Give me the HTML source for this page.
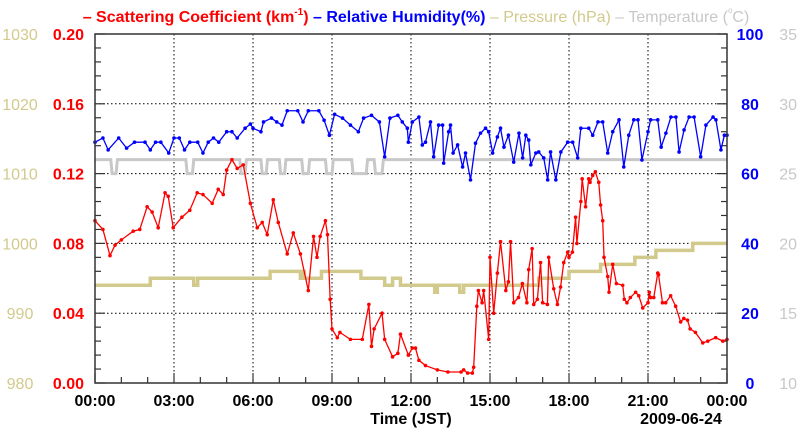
<!DOCTYPE html>
<html><head><meta charset="utf-8"><style>
html,body{margin:0;padding:0;background:#fff;}
svg{display:block;font-family:"Liberation Sans",sans-serif;}
</style></head><body>
<svg id="chart" width="800" height="434" viewBox="0 0 800 434"></svg>
<script>
// ---- data ----
const scatTimes=[0,0.3,0.57,0.76,1.0,1.45,1.7,1.98,2.17,2.4,2.66,2.78,2.97,3.3,3.6,3.88,4.1,4.45,4.68,4.87,5.0,5.2,5.4,5.63,5.9,6.16,6.35,6.54,6.77,6.96,7.3,7.53,7.8,8.1,8.3,8.43,8.55,8.75,8.83,8.93,9.0,9.2,9.3,9.7,10.15,10.4,10.5,10.6,10.9,11.0,11.3,11.5,11.6,11.9,12.05,12.17,12.3,12.55,13.0,13.4,13.9,14.0,14.15,14.33,14.38,14.5,14.56,14.7,14.76,14.95,15.0,15.14,15.28,15.4,15.6,15.7,15.78,15.9,16.08,16.23,16.4,16.47,16.6,16.66,16.8,16.92,17.0,17.18,17.23,17.42,17.56,17.68,17.8,17.95,18.0,18.13,18.25,18.3,18.45,18.5,18.63,18.75,18.8,18.9,19.0,19.13,19.2,19.28,19.33,19.47,19.52,19.66,19.8,20.04,20.1,20.2,20.33,20.53,20.65,20.8,21.0,21.05,21.1,21.22,21.37,21.4,21.55,21.67,21.86,22.05,22.24,22.36,22.5,22.6,22.8,23.08,23.27,23.57,23.84,24.0];
const scatValues=[0.093,0.088,0.073,0.079,0.082,0.087,0.088,0.101,0.098,0.089,0.109,0.107,0.089,0.095,0.099,0.109,0.108,0.103,0.111,0.108,0.122,0.128,0.123,0.125,0.103,0.089,0.092,0.085,0.105,0.092,0.074,0.086,0.074,0.053,0.084,0.072,0.084,0.093,0.085,0.048,0.031,0.026,0.029,0.025,0.025,0.045,0.021,0.031,0.040,0.025,0.015,0.017,0.028,0.016,0.020,0.020,0.013,0.010,0.0075,0.0063,0.0063,0.0075,0.0057,0.0057,0.009,0.044,0.053,0.046,0.053,0.025,0.072,0.040,0.063,0.081,0.053,0.058,0.081,0.046,0.049,0.057,0.046,0.065,0.077,0.045,0.048,0.069,0.046,0.045,0.072,0.054,0.045,0.055,0.069,0.075,0.072,0.075,0.095,0.080,0.104,0.117,0.101,0.117,0.115,0.119,0.121,0.115,0.102,0.093,0.072,0.061,0.052,0.068,0.057,0.056,0.048,0.046,0.049,0.052,0.050,0.043,0.046,0.052,0.049,0.049,0.063,0.062,0.046,0.046,0.050,0.044,0.035,0.037,0.036,0.031,0.029,0.023,0.024,0.026,0.024,0.025];
const rhTimes=[0,0.3,0.5,0.9,1.2,1.5,1.9,2.1,2.3,2.5,2.8,3.0,3.2,3.4,3.6,3.9,4.1,4.3,4.5,4.7,5.0,5.2,5.4,5.7,5.9,6.0,6.3,6.4,6.7,6.9,7.1,7.3,7.7,7.9,8.1,8.5,8.7,8.9,9.1,9.4,9.7,10.0,10.2,10.5,10.8,11.0,11.2,11.5,11.67,11.86,11.9,12.05,12.3,12.43,12.55,12.74,12.86,13.05,13.2,13.24,13.43,13.5,13.6,13.77,13.96,14.07,14.26,14.45,14.64,14.83,14.95,15.1,15.28,15.4,15.53,15.7,15.9,16.1,16.24,16.36,16.47,16.55,16.74,16.85,17.04,17.19,17.3,17.5,17.69,17.95,18.14,18.33,18.45,18.75,18.9,19.1,19.28,19.47,19.66,19.9,20.08,20.27,20.46,20.62,20.77,21.0,21.1,21.37,21.5,21.68,21.87,22.06,22.18,22.37,22.56,22.75,23.0,23.2,23.47,23.58,23.77,23.9,24.0];
const rhValues=[69,70.2,66.8,70.2,67.3,69,69,66.8,69,69,65.9,70.2,70.2,66.8,69,69,65.9,69,70.2,69,72,72,70.2,73,74.2,73,72,74.8,75.9,74.8,73.9,78,78,74.8,78,78,75.3,71,77,75.9,73.9,72,75.9,76.7,74.8,64.8,75.9,76.7,74.8,73,69,74.8,76.2,68.2,69,74.8,64.8,73.9,73.9,63,72,73.9,65.9,68.2,61.9,65.9,58.2,68.7,71.6,73,72,65.9,70.5,73,67.6,71,63.3,71.6,64.5,71,69.6,62.5,65.9,66.2,64.5,58.2,66.2,58.2,66.2,69,69,64.5,73,73,71,74.8,74.8,65.9,72,75.4,61.9,71,75.4,75.4,63.9,72,75.4,75.4,67.6,71.6,76.2,76.2,66.2,72.5,76.2,76.2,64.8,73.9,76.2,75.4,66.8,71,71];
const presStepTimes=[0,2.1,3.75,3.9,6.65,7.8,7.9,7.95,8.6,10.1,11.0,11.3,11.6,12.9,13.0,13.85,14.0,16.85,18.0,19.2,20.5,21.3,22.7];
const presStepValues=[994,995,994,995,996,995,996,995,996,995,994,995,994,993,994,993,994,995,996,997,998,999,1000];
const tempTimes=[0,0.6,0.65,0.8,0.85,3.45,3.5,3.7,3.75,5.5,5.55,5.7,5.75,6.3,6.35,6.5,6.55,7.0,7.05,7.2,7.25,7.85,7.9,8.1,8.15,8.75,8.8,9.0,9.05,9.75,9.8,10.3,10.35,10.6,10.65,10.9,10.95,24];
const tempValues=[26,26,25,25,26,26,25,25,26,26,25,25,26,26,25,25,26,26,25,25,26,26,25,25,26,26,25,25,26,26,25,25,26,26,25,25,26,26];
const xTickLabels=["00:00","03:00","06:00","09:00","12:00","15:00","18:00","21:00","00:00"];
const scatTicks=["0.00","0.04","0.08","0.12","0.16","0.20"];
const presTicks=["980","990","1000","1010","1020","1030"];
const rhTicks=["0","20","40","60","80","100"];
const tempTicks=["10","15","20","25","30","35"];

// ---- axes ----
const L=95,R=727,T=34,B=383;
const X=t=>L+(R-L)*t/24;
const YS=v=>B-(B-T)*v/0.2;
const YP=v=>B-(B-T)*(v-980)/50;
const YR=v=>B-(B-T)*v/100;
const YT=v=>B-(B-T)*(v-10)/25;
const NS="http://www.w3.org/2000/svg";
const svg=document.getElementById('chart');
function mk(tag,attrs,parent){const e=document.createElementNS(NS,tag);for(const k in attrs)e.setAttribute(k,attrs[k]);(parent||svg).appendChild(e);return e;}

// grid
const grid=mk('g',{});


for(let i=1;i<8;i++){mk('line',{x1:X(i*3),x2:X(i*3),y1:T,y2:B,stroke:'#000','stroke-width':1,'stroke-dasharray':'1.5,2.5'},grid);}
for(let i=1;i<5;i++){const y=YS(i*0.04);mk('line',{x1:L,x2:R,y1:y,y2:y,stroke:'#000','stroke-width':1,'stroke-dasharray':'1.5,2.5'},grid);}

// ticks
const ticks=mk('g',{stroke:'#333','stroke-width':1.2});


for(let i=0;i<=24;i++){const x=X(i);const len=(i%3==0)?10:6;mk('line',{x1:x,x2:x,y1:B,y2:B-len},ticks);}
for(let i=0;i<=25;i++){const y=B-(B-T)*i/25;const len=(i%5==0)?10:6;mk('line',{x1:L,x2:L+len,y1:y,y2:y},ticks);mk('line',{x1:R,x2:R-len,y1:y,y2:y},ticks);}

// pressure
let pd='';
presStepTimes.forEach((t,i)=>{const tn=i<presStepTimes.length-1?presStepTimes[i+1]:24;const y=YP(presStepValues[i]);pd+=(i==0?'M':'L')+X(t)+','+y+'L'+X(tn)+','+y;});
const pres=mk('path',{d:pd,fill:'none',stroke:'#d2ca8c','stroke-width':3.5});



// temperature
const temp=mk('polyline',{points:tempTimes.map((t,i)=>X(t)+','+YT(tempValues[i])).join(' '),fill:'none',stroke:'#c8c8c8','stroke-width':3});



function series(times,vals,yf,color,name){
  const g=mk('g',{});
  
  
  mk('polyline',{points:times.map((t,i)=>X(t)+','+yf(vals[i])).join(' '),fill:'none',stroke:color,'stroke-width':1.3},g);
  times.forEach((t,i)=>{const c=mk('circle',{cx:X(t),cy:yf(vals[i]),r:1.8,fill:color},g);
    
    });
}
series(rhTimes,rhValues,YR,'#0000ff','humidity-series');
series(scatTimes,scatValues,YS,'#ff0000','scattering-series');

// frame
const fr=mk('rect',{x:L,y:T,width:R-L,height:B-T,fill:'none',stroke:'#333','stroke-width':1.5});



// labels
function txt(s,x,y,attrs,name){const e=mk('text',Object.assign({x:x,y:y},attrs));e.textContent=s;
  
  return e;}
for(let i=0;i<6;i++){
  const y=B-(B-T)*i/5+6;
  txt(presTicks[i],20,y,{'text-anchor':'middle','font-size':16,fill:'#d2ca8c'},'pressure-tick-label');
  txt(scatTicks[i],84,y,{'text-anchor':'end','font-size':16,'font-weight':'bold',fill:'#ff0000'},'scattering-tick-label');
  txt(rhTicks[i],750,y,{'text-anchor':'middle','font-size':16,'font-weight':'bold',fill:'#0000ff'},'humidity-tick-label');
  txt(tempTicks[i],797,y,{'text-anchor':'end','font-size':16,fill:'#c8c8c8'},'temperature-tick-label');
}
xTickLabels.forEach((s,i)=>txt(s,X(i*3),406,{'text-anchor':'middle','font-size':16,'font-weight':'bold',fill:'#000'},'x-tick-label'));
txt('Time (JST)',411,424,{'text-anchor':'middle','font-size':16,'font-weight':'bold',fill:'#000'},'x-axis-title');
txt('2009-06-24',681,424,{'text-anchor':'middle','font-size':16,'font-weight':'bold',fill:'#000'},'date-label');

// title / legend
const title=mk('text',{x:416,y:22,'text-anchor':'middle','font-size':16,'font-weight':'bold'});


title.innerHTML='<tspan fill="#ff0000">– Scattering Coefficient (km<tspan font-size="10" dy="-7">-1</tspan><tspan dy="7">)</tspan></tspan><tspan fill="#0000ff"> – Relative Humidity(%)</tspan><tspan fill="#d2ca8c" font-weight="normal"> – Pressure (hPa)</tspan><tspan fill="#c8c8c8" font-weight="normal"> – Temperature (<tspan font-size="8" dy="-9">o</tspan><tspan dy="9">C)</tspan></tspan>';
</script>
</body></html>
